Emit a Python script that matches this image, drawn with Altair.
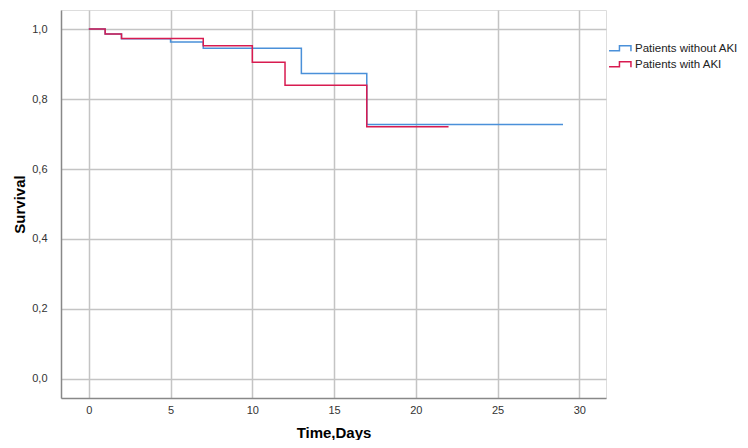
import altair as alt
import pandas as pd

# Kaplan-Meier step data
without_time = [0, 1, 2, 5, 7, 13, 17, 29]
without_surv = [1.0, 0.986, 0.972, 0.963, 0.945, 0.873, 0.727, 0.727]
with_time = [0, 1, 2, 7, 10, 12, 17, 22]
with_surv = [1.0, 0.986, 0.973, 0.952, 0.905, 0.839, 0.721, 0.721]

series_names = ["Patients without AKI", "Patients with AKI"]
series_colors = ["#4a90d9", "#d81b50"]

x_ticks = [0, 5, 10, 15, 20, 25, 30]
y_ticks = [0.0, 0.2, 0.4, 0.6, 0.8, 1.0]

rows = []
for t, s in zip(without_time, without_surv):
    rows.append({"time": t, "surv": s, "group": series_names[0]})
for t, s in zip(with_time, with_surv):
    rows.append({"time": t, "surv": s, "group": series_names[1]})
df = pd.DataFrame(rows)

FONT = "Liberation Sans"

chart = alt.Chart(df).mark_line(interpolate="step-after", strokeWidth=1.5).encode(
    x=alt.X("time:Q",
            scale=alt.Scale(domain=[-1.7, 31.63], nice=False, zero=False),
            axis=alt.Axis(values=x_ticks, title="Time,Days", format="d",
                          grid=True, gridColor="#c4c4c4", gridWidth=1.5,
                          domainColor="#888888", domainWidth=1.5,
                          ticks=False, labelPadding=6, labelFontSize=11,
                          labelColor="#333333", labelFont=FONT,
                          titleFont=FONT, titleFontSize=15, titleFontWeight="bold",
                          titleColor="#000000", titlePadding=10)),
    y=alt.Y("surv:Q",
            scale=alt.Scale(domain=[-0.0543, 1.0543], nice=False, zero=False),
            axis=alt.Axis(values=y_ticks, title="Survival",
                          labelExpr="replace(format(datum.value, '.1f'), '.', ',')",
                          grid=True, gridColor="#c4c4c4", gridWidth=1.5,
                          domainColor="#888888", domainWidth=1.5,
                          ticks=False, labelPadding=14, labelFontSize=11,
                          labelColor="#333333", labelFont=FONT,
                          titleFont=FONT, titleFontSize=15, titleFontWeight="bold",
                          titleColor="#000000", titlePadding=4)),
    color=alt.Color("group:N",
                    scale=alt.Scale(domain=series_names, range=series_colors),
                    legend=alt.Legend(title=None, orient="none", legendX=547, legendY=31,
                                      symbolType="M-1,0.15 H-0.05 V-0.3 H1 V0.2",
                                      symbolSize=480, symbolStrokeWidth=1.5,
                                      clipHeight=16,
                                      labelFont=FONT, labelFontSize=11.5,
                                      labelColor="#222222", labelOffset=3,
                                      rowPadding=0, padding=0)),
).properties(
    width=545, height=388,
    padding={"left": 53, "top": 2, "right": 134, "bottom": 42},
    autosize=alt.AutoSizeParams(type="none"),
).configure_view(stroke=None).configure(background="white")

chart.save("out.html", embed_options={"renderer": "svg", "actions": False})
